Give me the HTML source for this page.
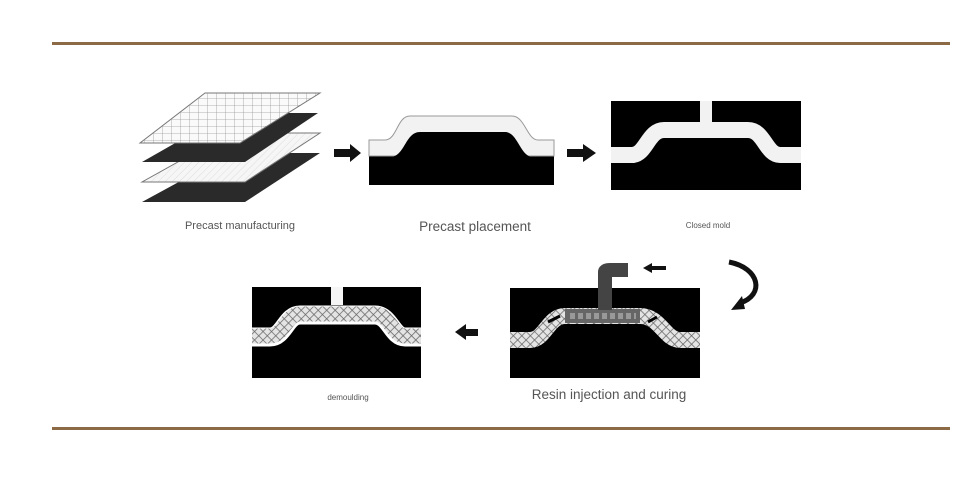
<!DOCTYPE html>
<html><head><meta charset="utf-8"><style>
html,body{margin:0;padding:0;background:#fff;}
svg{display:block;}
text{font-family:"Liberation Sans",sans-serif;fill:#555;}
</style></head><body>
<svg width="957" height="493" viewBox="0 0 957 493" xmlns="http://www.w3.org/2000/svg">
<defs>
<pattern id="chk" width="6" height="6" patternUnits="userSpaceOnUse" patternTransform="rotate(45)">
<rect width="6" height="6" fill="#e4e4e4"/>
<path d="M0 0H6M0 0V6" stroke="#666" stroke-width="1.5"/>
</pattern>
<pattern id="grid" width="9" height="7" patternUnits="userSpaceOnUse">
<rect width="9" height="7" fill="#fafafa"/>
<path d="M0 0H9M0 0V7" stroke="#999" stroke-width="0.8"/>
</pattern>
<pattern id="diag" width="5" height="5" patternUnits="userSpaceOnUse" patternTransform="rotate(45)">
<rect width="5" height="5" fill="#f6f6f6"/>
<path d="M0 0V5" stroke="#ddd" stroke-width="1"/>
</pattern>
</defs>
<rect x="52" y="42" width="898" height="3" fill="#8b6a45"/>
<rect x="52" y="427" width="898" height="3" fill="#8b6a45"/>

<polygon points="142,202 245,202 320,153 232,153" fill="#2a2a2a"/>
<polygon points="142,182 245,182 320,133 230,133" fill="url(#diag)" stroke="#777" stroke-width="1"/>
<polygon points="142,162 245,162 318,113 228,113" fill="#2a2a2a"/>
<polygon points="140,143 240,143 320,93 205,93" fill="url(#grid)" stroke="#777" stroke-width="1"/>
<text x="240" y="229" font-size="11" text-anchor="middle">Precast manufacturing</text>

<polygon points="334,149 350,149 350,144 361,153 350,162 350,157 334,157" fill="#111"/>

<rect x="369" y="150" width="185" height="35" fill="#000"/>
<path d="M369,140 L385,140 C397,140 397,116 410,116 L512,116 C525,116 527,140 538,140 L554,140 L554,156 L369,156 Z" fill="#f2f2f2" stroke="#999" stroke-width="1"/>
<path d="M369,157 L390,157 C405,157 405,132 420,132 L505,132 C518,132 520,157 533,157 L554,157 L554,185 L369,185 Z" fill="#000"/>
<text x="475" y="231" font-size="13.5" text-anchor="middle">Precast placement</text>

<polygon points="567,149 583,149 583,144 596,153 583,162 583,157 567,157" fill="#111"/>

<rect x="611" y="101" width="190" height="89" fill="#000"/>
<path d="M611,155 L632,155 C646,155 648,130 664,130 L748,130 C764,130 766,155 780,155 L801,155" fill="none" stroke="#f2f2f2" stroke-width="16"/>
<rect x="700" y="101" width="12" height="21" fill="#f2f2f2"/>
<text x="708" y="228" font-size="8" text-anchor="middle">Closed mold</text>

<path d="M729,262 C760,268 765,295 740,303" fill="none" stroke="#111" stroke-width="5"/>
<polygon points="731,310 742,296 745,309" fill="#111"/>

<rect x="510" y="288" width="190" height="90" fill="#000"/>
<path d="M510,340 L530,340 C545,340 548,316 565,316 L640,316 C660,316 665,340 680,340 L700,340" fill="none" stroke="url(#chk)" stroke-width="16"/>
<rect x="565" y="309" width="75" height="14" fill="#666"/>
<path d="M570,316H636" stroke="#999" stroke-width="6" stroke-dasharray="5,3"/>
<path d="M605,310 L605,272 Q605,270 610,270 L628,270" fill="none" stroke="#444" stroke-width="14"/>
<path d="M548,322 L560,316 M657,317 L648,322" stroke="#000" stroke-width="3"/>
<polygon points="643,268 652,263 652,266 666,266 666,270 652,270 652,273" fill="#111"/>
<text x="609" y="399" font-size="13.5" text-anchor="middle">Resin injection and curing</text>

<polygon points="478,329 466,329 466,324 455,332 466,340 466,336 478,336" fill="#111"/>

<rect x="252" y="287" width="169" height="91" fill="#000"/>
<path d="M252,337 L270,337 C284,337 286,315 300,315 L375,315 C390,315 392,337 405,337 L421,337" fill="none" stroke="#fff" stroke-width="19"/>
<path d="M252,336 L270,336 C284,336 286,314 300,314 L375,314 C390,314 392,336 405,336 L421,336" fill="none" stroke="url(#chk)" stroke-width="15"/>
<rect x="331" y="287" width="12" height="18" fill="#f5f5f5"/>
<text x="348" y="400" font-size="8" text-anchor="middle">demoulding</text>
</svg>
</body></html>
